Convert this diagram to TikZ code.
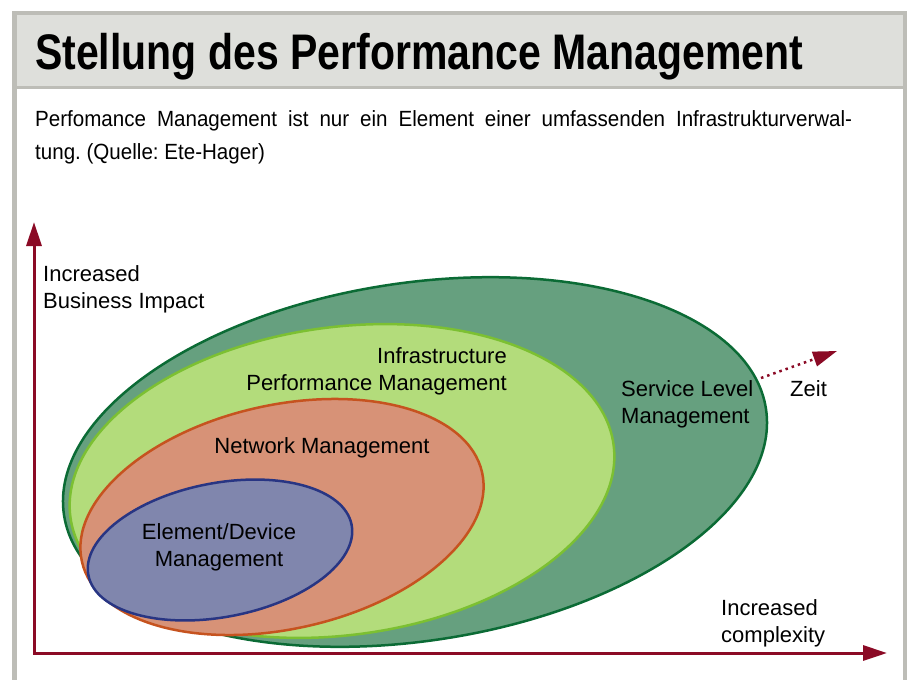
\documentclass[tikz,border=0pt]{standalone}
\usepackage{fontspec}
\setmainfont{Liberation Sans}
\newfontfamily\titlefont[FakeStretch=0.82]{Liberation Sans}
\newfontfamily\bodyfont[FakeStretch=0.935]{Liberation Sans}
\usetikzlibrary{arrows.meta, positioning}
\frenchspacing

\definecolor{axisred}{HTML}{8B0A25}
\definecolor{framegray}{HTML}{BDBDB7}
\definecolor{bandgray}{HTML}{DEDFDB}
\definecolor{slfill}{HTML}{66A07F}
\definecolor{sldraw}{HTML}{0B6B35}
\definecolor{ipfill}{HTML}{B3DC7B}
\definecolor{ipdraw}{HTML}{7CC032}
\definecolor{nmfill}{HTML}{D79277}
\definecolor{nmdraw}{HTML}{C6531F}
\definecolor{edfill}{HTML}{8086AD}
\definecolor{eddraw}{HTML}{283583}

\begin{document}
\begin{tikzpicture}[x=1pt, y=-1pt,
    axis/.style = {draw=axisred, line width=3pt, line cap=rect, -{Triangle[length=24pt, width=15pt]}},
    ring/.style = {line width=2.5pt},
    tag/.style  = {font=\fontsize{22}{27}\selectfont, align=left, inner sep=0pt}]
  \useasboundingbox (0,0) rectangle (907,680);

  % frame and title band
  \fill[framegray] (12,11) rectangle (907,15);
  \fill[framegray] (12,11) rectangle (17,680);
  \fill[framegray] (903,11) rectangle (907,680);
  \fill[bandgray] (17,15) rectangle (903,86);
  \fill[framegray] (17,86) rectangle (903,89);

  \node[anchor=north west, inner sep=0pt, font=\titlefont\bfseries\fontsize{50}{50}\selectfont] (title) at (35,33) {Stellung des Performance Management};
  \node[anchor=north west, inner sep=0pt, text width=817pt, align=justify, font=\bodyfont\fontsize{22}{33}\selectfont] (caption) at (35,110)
    {Perfomance Management ist nur ein Element einer umfassenden Infrastrukturverwal-\linebreak tung. (Quelle: Ete-Hager)};

  % nested areas
  \filldraw[ring, fill=slfill, draw=sldraw] (415,462) ellipse [x radius=355, y radius=179, rotate=8.6];
  \filldraw[ring, fill=ipfill, draw=ipdraw] (342,481) ellipse [x radius=274, y radius=154, rotate=7.6];
  \filldraw[ring, fill=nmfill, draw=nmdraw] (282,517) ellipse [x radius=205, y radius=112, rotate=12.5];
  \filldraw[ring, fill=edfill, draw=eddraw] (220,550) ellipse [x radius=134, y radius=67, rotate=10.8];

  \node[tag, anchor=north east, align=right] (ipname) at (507,347) {Infrastructure\\Performance Management};
  \node[tag, anchor=north west] (slname) at (621,380) {Service Level\\Management};
  \node[tag, anchor=north] (nmname) at (322,437) {Network Management};
  \node[tag, anchor=north, align=center] (edname) at (219,523) {Element/Device\\Management};

  % axes
  \coordinate (origin) at (34,653);
  \coordinate (ytop) at (34,222);
  \coordinate (xend) at (887,653);
  \draw[axis] (origin) -- (ytop);
  \draw[axis] (origin) -- (xend);
  \node[tag, anchor=north west] (yname) at (43,265) {Increased\\Business Impact};
  \node[tag, anchor=north west] (xname) at (721,599) {Increased\\complexity};

  % time
  \coordinate (zfrom) at (761,378);
  \coordinate (zto) at (837,351);
  \draw[axisred, line width=2.5pt, dash pattern=on 2.5pt off 4pt, -{Triangle[length=24pt, width=15pt]}] (zfrom) -- (zto);
  \node[tag, anchor=north west] (zeit) at (790,380) {Zeit};
\end{tikzpicture}
\end{document}
